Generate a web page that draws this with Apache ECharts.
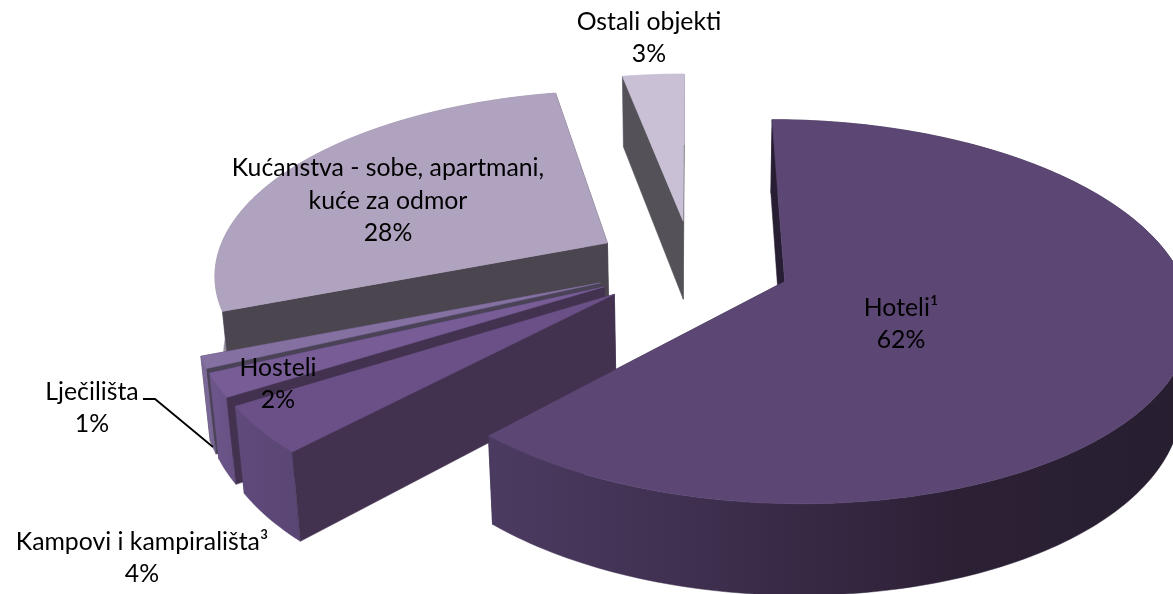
<!DOCTYPE html>
<html>
<head>
<meta charset="utf-8">
<title>Smještajni objekti</title>
<style>
  html, body { margin: 0; padding: 0; background: #fff; }
  #chart { width: 1173px; height: 594px; }
</style>
<script src="https://cdn.jsdelivr.net/npm/echarts@6/dist/echarts.min.js"></script>
</head>
<body>
<div id="chart"></div>
<script>
// clockwise from 12 o'clock
const categories = ["Hoteli¹", "Kampovi i kampirališta³", "Hosteli", "Lječilišta", "Kućanstva - sobe, apartmani,\nkuće za odmor", "Ostali objekti"];
const shares = [62, 4, 2, 1, 28, 3];

// back to front
const drawOrder = [5, 4, 3, 2, 1, 0];

const topColors = ["#5b4674", "#6a5086", "#775c96", "#8570a2", "#b0a3bf", "#c9c0d6"];
const radialColors = ["#281e33", "#423250", "#423250", "#4a4358", "#4b4550", "#545158"];
const outerColors = [
  ["#4b3b61", "#3d2e4d", "#2c2035", "#271e30"],
  ["#5f4a7c", "#5a4674"],
  ["#6d5689", "#675184"],
  ["#7d6c9a", "#756490"],
  ["#96909f", "#8f8a9c"],
  ["#c9c0d6", "#c9c0d6"]
];

const labelPos = [[901, 324], [142, 558], [278, 384], [92, 408], [388, 201], [649, 38]];
const leaderLine = [[143, 399], [155, 399], [213, 447]];

// fake 3d camera for the exploded pie
const cam = { x0: 692, y0: 264.5, k: 393, ky: 182, kz: 82, p: 0.155, q: 0.018, explode: 0.25 };

const total = shares.reduce((a, b) => a + b, 0);
let startAngles = [];
let sum = 0;
for (let v of shares) {
  startAngles.push(sum / total * Math.PI * 2);
  sum += v;
}

let project = (u, v, low) => {
  let w = 1 - cam.p * v;
  if (low) {
    return [cam.x0 + cam.k * u / (w + cam.q), cam.y0 + (cam.ky * v + cam.kz) / (w + cam.q)];
  }
  return [cam.x0 + cam.k * u / w, cam.y0 + cam.ky * v / w];
};

let sliceShapes = (i) => {
  let a0 = startAngles[i];
  let a1 = a0 + shares[i] / total * Math.PI * 2;
  let mid = (a0 + a1) / 2;
  let cu = cam.explode * Math.sin(mid);
  let cv = -cam.explode * Math.cos(mid);
  let n = Math.max(2, Math.ceil((a1 - a0) / 0.02));
  let rimTop = [], rimLow = [];
  for (let j = 0; j <= n; j++) {
    let a = a0 + (a1 - a0) * j / n;
    rimTop.push(project(cu + Math.sin(a), cv - Math.cos(a), false));
    rimLow.push(project(cu + Math.sin(a), cv - Math.cos(a), true));
  }
  let apexTop = project(cu, cv, false);
  let apexLow = project(cu, cv, true);
  return {
    face: [apexTop].concat(rimTop),
    outer: rimTop.concat(rimLow.slice().reverse()),
    wall0: [apexTop, rimTop[0], rimLow[0], apexLow],
    wall1: [apexTop, rimTop[n], rimLow[n], apexLow]
  };
};

let poly = (points, fill) => ({
  type: 'polygon',
  shape: { points: points },
  style: { fill: fill, stroke: fill, lineWidth: 0.5 }
});

let renderItem = (params, api) => {
  let i = api.value(0);
  let s = sliceShapes(i);
  let stops = outerColors[i].map((c, j, arr) => ({ offset: j / (arr.length - 1), color: c }));
  let outerFill = { type: 'linear', x: 0, y: 0, x2: 1, y2: 0, colorStops: stops };
  // wall1 always faces away, wall0 faces the camera
  return {
    type: 'group',
    children: [
      poly(s.wall1, radialColors[i]),
      poly(s.outer, outerFill),
      poly(s.wall0, radialColors[i]),
      poly(s.face, topColors[i])
    ]
  };
};

let labels = categories.map((name, i) => ({
  type: 'text',
  x: labelPos[i][0],
  y: labelPos[i][1],
  z: 20,
  style: {
    text: name + "\n" + shares[i] + "%",
    font: '24.8px Lato',
    lineHeight: 32.5,
    fill: '#000',
    align: 'center',
    verticalAlign: 'middle'
  }
}));

let chart = echarts.init(document.getElementById('chart'));
chart.setOption({
  backgroundColor: '#fff',
  animation: false,
  series: [{
    type: 'custom',
    coordinateSystem: 'none',
    renderItem: renderItem,
    data: drawOrder.map(i => [i, shares[i]])
  }],
  graphic: {
    elements: labels.concat([{
      type: 'polyline',
      z: 20,
      shape: { points: leaderLine },
      style: { stroke: '#000', lineWidth: 1.8, fill: null }
    }])
  }
});
</script>
</body>
</html>
